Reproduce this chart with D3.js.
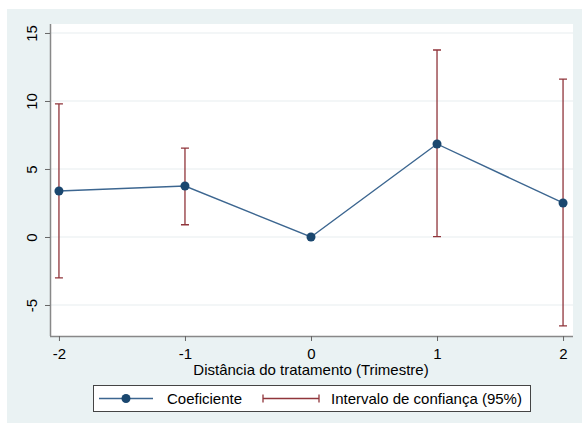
<!DOCTYPE html>
<html>
<head>
<meta charset="utf-8">
<script src="https://cdn.jsdelivr.net/npm/d3@7"></script>
<style>
  body { margin: 0; background: #fff; }
  text { font-family: "Liberation Sans", Arial, sans-serif; fill: #000; }
</style>
</head>
<body>
<div id="chart"></div>
<script>
// periods (distance from treatment, in quarters)
const periods = [-2, -1, 0, 1, 2];
const coefs = [3.38, 3.75, 0, 6.84, 2.5];
const ciLow = [-3.0, 0.9, null, 0.02, -6.54];
const ciHigh = [9.78, 6.54, null, 13.75, 11.6];
const yTicks = [-5, 0, 5, 10, 15];

const width = 582;
const height = 423;
const navy = '#1a476f';
const maroon = '#90353b';
const fs = 15;

const svg = d3.select('#chart').append('svg')
    .attr('width', width)
    .attr('height', height);

// graph region
svg.append('rect')
    .attr('x', 7).attr('y', 9)
    .attr('width', width - 7).attr('height', height - 9)
    .attr('fill', '#eaf2f3');

const plot = { left: 50, right: 573, top: 24, bottom: 336 };

svg.append('rect')
    .attr('x', plot.left).attr('y', plot.top)
    .attr('width', plot.right - plot.left).attr('height', plot.bottom - plot.top)
    .attr('fill', '#fff');

const x = d3.scaleLinear()
    .domain([-2.071, 2.079])
    .range([plot.left, plot.right]);
const y = d3.scaleLinear()
    .domain([-7.28, 15.66])
    .range([plot.bottom, plot.top]);

// gridlines
svg.append('g').selectAll('line')
    .data(yTicks)
    .enter().append('line')
    .attr('x1', plot.left).attr('x2', plot.right)
    .attr('y1', d => y(d)).attr('y2', d => y(d))
    .attr('stroke', '#e8eef0')
    .attr('stroke-width', 1.2);

// y axis
const yAxis = svg.append('g')
    .attr('transform', `translate(${plot.left}, 0)`)
    .call(d3.axisLeft(y).tickValues(yTicks).tickSize(5).tickPadding(5).tickFormat(d3.format('d')));
yAxis.select('.domain').attr('stroke', '#888').attr('stroke-width', 1.5)
    .attr('d', `M0.5,${plot.top}V${plot.bottom}`);
yAxis.selectAll('.tick line').attr('stroke', '#666');
yAxis.selectAll('.tick text')
    .attr('font-size', fs)
    .attr('text-anchor', 'middle')
    .attr('x', 0).attr('dy', 0)
    .attr('transform', 'translate(-17, 0) rotate(-90)')
    .attr('dominant-baseline', 'middle')
    .text(d => d < 0 ? '-' + Math.abs(d) : d);

// x axis
const xAxis = svg.append('g')
    .attr('transform', `translate(0, ${plot.bottom})`)
    .call(d3.axisBottom(x).tickValues(periods).tickSize(5).tickPadding(4).tickFormat(d3.format('d')));
xAxis.select('.domain').attr('stroke', '#888').attr('stroke-width', 1.5)
    .attr('d', `M${plot.left},0.5H${plot.right}`);
xAxis.selectAll('.tick line').attr('stroke', '#666');
xAxis.selectAll('.tick text')
    .attr('font-size', fs)
    .attr('y', 23).attr('dy', 0)
    .text(d => d < 0 ? '-' + Math.abs(d) : d);

svg.append('text')
    .attr('x', x(0)).attr('y', 375)
    .attr('text-anchor', 'middle')
    .attr('font-size', fs)
    .text('Distância do tratamento (Trimestre)');

// confidence intervals
const ci = periods.map((p, i) => ({ p, lo: ciLow[i], hi: ciHigh[i] })).filter(d => d.lo !== null);
const ciG = svg.append('g').attr('stroke', maroon).attr('stroke-width', 1.3);
ciG.selectAll('.ci')
    .data(ci)
    .enter().append('path')
    .attr('fill', 'none')
    .attr('d', d => {
        const cx = x(d.p), y0 = y(d.lo), y1 = y(d.hi);
        return `M${cx},${y0}V${y1}M${cx - 4},${y1}H${cx + 4}M${cx - 4},${y0}H${cx + 4}`;
    });

// coefficient line + markers
const line = d3.line().x((d, i) => x(periods[i])).y(d => y(d));
svg.append('path')
    .datum(coefs)
    .attr('fill', 'none')
    .attr('stroke', '#3c6690')
    .attr('stroke-width', 1.4)
    .attr('d', line);

svg.append('g').selectAll('circle')
    .data(coefs)
    .enter().append('circle')
    .attr('cx', (d, i) => x(periods[i]))
    .attr('cy', d => y(d))
    .attr('r', 4.5)
    .attr('fill', navy);

// legend
const leg = svg.append('g');
leg.append('rect')
    .attr('x', 93.5).attr('y', 385.5)
    .attr('width', 437).attr('height', 26)
    .attr('fill', '#fff')
    .attr('stroke', '#444')
    .attr('stroke-width', 1);
const ly = 398.5;
leg.append('line')
    .attr('x1', 99).attr('x2', 153).attr('y1', ly).attr('y2', ly)
    .attr('stroke', '#3c6690').attr('stroke-width', 1.4);
leg.append('circle')
    .attr('cx', 126).attr('cy', ly).attr('r', 4.5).attr('fill', navy);
leg.append('text')
    .attr('x', 167).attr('y', ly).attr('dy', '0.35em')
    .attr('font-size', fs)
    .text('Coeficiente');
leg.append('path')
    .attr('d', `M263,${ly}H319M263,${ly - 4}V${ly + 4}M319,${ly - 4}V${ly + 4}`)
    .attr('stroke', maroon).attr('stroke-width', 1.3).attr('fill', 'none');
leg.append('text')
    .attr('x', 331).attr('y', ly).attr('dy', '0.35em')
    .attr('font-size', fs)
    .text('Intervalo de confiança (95%)');
</script>
</body>
</html>
